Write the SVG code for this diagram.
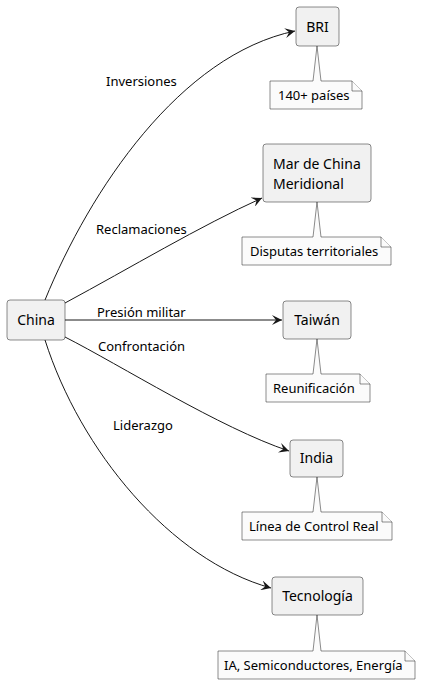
<svg xmlns="http://www.w3.org/2000/svg" width="422" height="685" viewBox="0 0 422 685">
<style>
.node{fill:#F1F1F1;stroke:#181818;stroke-width:0.5}
.note{fill:#FBFBFB;stroke:#181818;stroke-width:0.5}
.edge{fill:none;stroke:#181818;stroke-width:1}
.t{font-family:"Noto Sans","DejaVu Sans",sans-serif;font-size:14px;fill:#000}
.l{font-family:"Noto Sans","DejaVu Sans",sans-serif;font-size:13px;fill:#000}
</style>
<defs>
<marker id="arr" markerWidth="12" markerHeight="10" refX="10" refY="5" orient="auto" markerUnits="userSpaceOnUse">
<path d="M0,0 L10,5 L0,10 L4,5 Z" fill="#181818"/>
</marker>
</defs>
<rect width="422" height="685" fill="#FFFFFF"/>
<g id="edges">
<path class="edge" d="M45,300 C90,190 180,55 295,31" marker-end="url(#arr)"/>
<path class="edge" d="M65,303 C130,268 200,226 262,198" marker-end="url(#arr)"/>
<path class="edge" d="M65,320 L282,320" marker-end="url(#arr)"/>
<path class="edge" d="M65,337 C120,365 220,428 289,451" marker-end="url(#arr)"/>
<path class="edge" d="M45,340 C80,450 170,560 271,588" marker-end="url(#arr)"/>
<text class="l" x="106" y="86">Inversiones</text>
<text class="l" x="96" y="234">Reclamaciones</text>
<text class="l" x="97" y="317">Presión militar</text>
<text class="l" x="98" y="351">Confrontación</text>
<text class="l" x="113" y="430">Liderazgo</text>
</g>
<g id="china">
<rect class="node" x="7" y="300" width="58" height="40" rx="3"/>
<text class="t" x="36" y="325" text-anchor="middle">China</text>
</g>
<g id="bri">
<rect class="node" x="296" y="7" width="43" height="39" rx="3"/>
<text class="t" x="317.5" y="32" text-anchor="middle">BRI</text>
</g>
<g id="note-bri">
<path class="note" d="M270,81 L313,81 L317,46 L321,81 L352,81 L362,91 L362,109 L270,109 Z"/>
<path class="note" d="M352,81 L352,91 L362,91"/>
<text class="l" x="278" y="100">140+ países</text>
</g>
<g id="mar">
<rect class="node" x="263" y="144" width="108" height="58" rx="3"/>
<text class="t" x="273" y="169">Mar de China</text>
<text class="t" x="273" y="189">Meridional</text>
</g>
<g id="note-mar">
<path class="note" d="M242,237 L313,237 L317,202 L321,237 L381,237 L391,247 L391,265 L242,265 Z"/>
<path class="note" d="M381,237 L381,247 L391,247"/>
<text class="l" x="250" y="256">Disputas territoriales</text>
</g>
<g id="taiwan">
<rect class="node" x="283" y="301" width="68" height="38" rx="3"/>
<text class="t" x="317" y="325" text-anchor="middle">Taiwán</text>
</g>
<g id="note-taiwan">
<path class="note" d="M266,374 L313,374 L317,339 L321,374 L360,374 L370,384 L370,402 L266,402 Z"/>
<path class="note" d="M360,374 L360,384 L370,384"/>
<text class="l" x="273" y="393">Reunificación</text>
</g>
<g id="india">
<rect class="node" x="290" y="440" width="53" height="37" rx="3"/>
<text class="t" x="316.5" y="463" text-anchor="middle">India</text>
</g>
<g id="note-india">
<path class="note" d="M242,512 L313,512 L317,477 L321,512 L382,512 L392,522 L392,540 L242,540 Z"/>
<path class="note" d="M382,512 L382,522 L392,522"/>
<text class="l" x="249" y="531">Línea de Control Real</text>
</g>
<g id="tecnologia">
<rect class="node" x="272" y="577" width="91" height="38" rx="3"/>
<text class="t" x="317.5" y="601" text-anchor="middle">Tecnología</text>
</g>
<g id="note-tecnologia">
<path class="note" d="M218,651 L313,651 L317,615 L321,651 L405,651 L415,661 L415,679 L218,679 Z"/>
<path class="note" d="M405,651 L405,661 L415,661"/>
<text class="l" x="224" y="670">IA, Semiconductores, Energía</text>
</g>
</svg>
